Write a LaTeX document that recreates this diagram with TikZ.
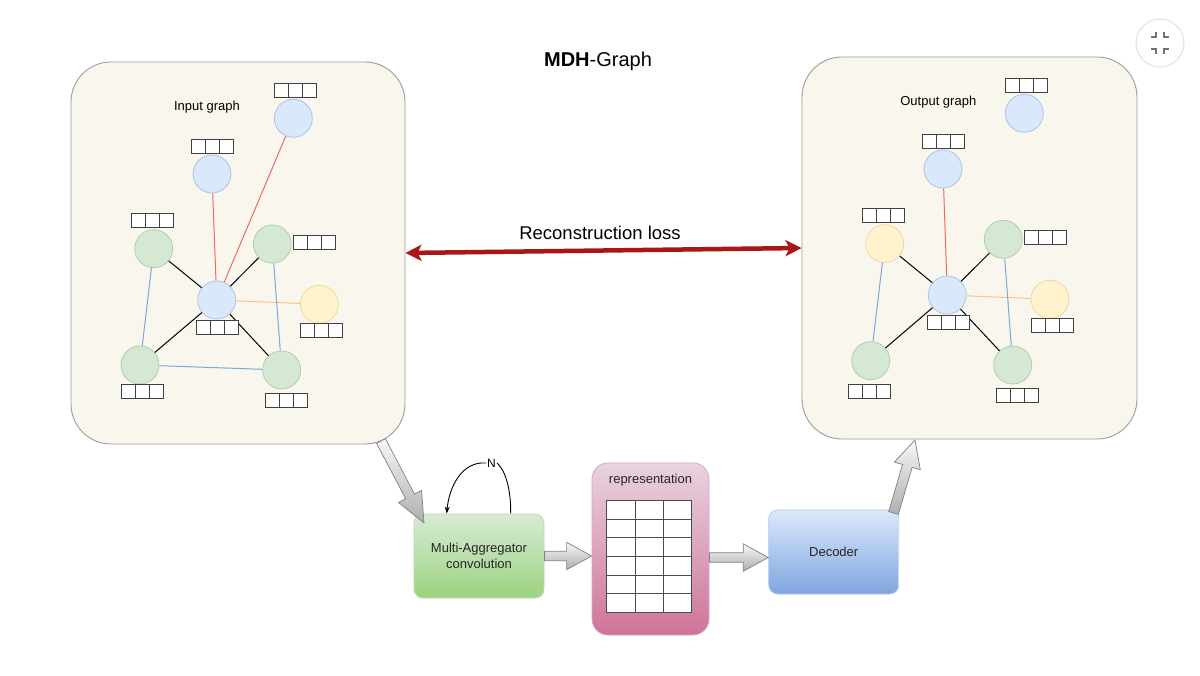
\documentclass[tikz,border=0pt]{standalone}
\usepackage{fontspec}
\setmainfont{Liberation Sans}
\usetikzlibrary{calc,arrows.meta}
\definecolor{panelfill}{HTML}{F9F7ED}
\definecolor{panelline}{HTML}{9C9C9C}
\definecolor{nblue}{HTML}{DAE8FC}
\definecolor{nblueb}{HTML}{AEC3E3}
\definecolor{ngreen}{HTML}{D5E8D4}
\definecolor{ngreenb}{HTML}{B0CFA8}
\definecolor{nyellow}{HTML}{FFF2CC}
\definecolor{nyellowb}{HTML}{EBD9A6}
\definecolor{ered}{HTML}{EA6B66}
\definecolor{eblue}{HTML}{7EA6E0}
\definecolor{eorange}{HTML}{FFC28A}
\definecolor{lossred}{RGB}{168,22,22}
\definecolor{matop}{HTML}{D8EBD5}
\definecolor{mabot}{HTML}{9CD27E}
\definecolor{maline}{HTML}{BCDCAE}
\definecolor{reptop}{HTML}{E8D3E1}
\definecolor{repbot}{HTML}{CF7399}
\definecolor{repline}{HTML}{D8A9C2}
\definecolor{dectop}{HTML}{DCE9FC}
\definecolor{decbot}{HTML}{7FA5DE}
\definecolor{decline}{HTML}{B3C9EC}
\newcommand{\blockarr}[5]{%
  \coordinate (hb) at ($(#2)!#5!(#1)$);
  \path[garrow] ($(#1)!#3!90:(#2)$) -- ($(hb)!#3!90:(#2)$) -- ($(hb)!#4!90:(#2)$) -- (#2)
    -- ($(hb)!#4!-90:(#2)$) -- ($(hb)!#3!-90:(#2)$) -- ($(#1)!#3!-90:(#2)$) -- cycle;
}
\tikzset{
  panel/.style={draw=panelline, fill=panelfill, rounded corners=40pt, line width=0.9pt},
  gnode/.style={circle, minimum size=38pt, inner sep=0pt, line width=0.8pt},
  bluen/.style={gnode, fill=nblue, draw=nblueb},
  greenn/.style={gnode, fill=ngreen, draw=ngreenb},
  yellown/.style={gnode, fill=nyellow, draw=nyellowb},
  feat/.style={draw=black!75, fill=white, minimum width=42pt, minimum height=14pt, inner sep=0pt, line width=0.9pt,
    path picture={\draw[black!75, line width=0.9pt]
      ([xshift=14pt]path picture bounding box.south west) -- ([xshift=14pt]path picture bounding box.north west)
      ([xshift=28pt]path picture bounding box.south west) -- ([xshift=28pt]path picture bounding box.north west);}},
  blk/.style={black, line width=1pt},
  redl/.style={ered, line width=1pt},
  bluel/.style={eblue, line width=1pt},
  orangel/.style={eorange, line width=1pt},
  lbl/.style={font=\fontsize{13}{15.5}\selectfont, inner sep=0pt},
  garrow/.style={draw=black!50, line width=0.7pt, top color=black!3, bottom color=black!32},
  lossarrow/.style={draw=lossred, line width=4.5pt,
    {Stealth[length=16pt,width=16pt,inset=4pt]}-{Stealth[length=16pt,width=16pt,inset=4pt]}},
  mabox/.style={rounded corners=9pt, draw=maline, line width=0.8pt, top color=matop, bottom color=mabot,
    minimum width=130pt, minimum height=84pt, align=center, font=\fontsize{13}{15.5}\selectfont, text=black!85},
  repbox/.style={rounded corners=16pt, draw=repline, line width=0.8pt, top color=reptop, bottom color=repbot,
    minimum width=117pt, minimum height=172pt},
  decbox/.style={rounded corners=9pt, draw=decline, line width=0.8pt, top color=dectop, bottom color=decbot,
    minimum width=130pt, minimum height=84pt, font=\fontsize{13}{15.5}\selectfont, text=black!85},
  reptab/.style={draw=black!70, fill=white, minimum width=85pt, minimum height=112pt, inner sep=0pt, line width=0.8pt,
    path picture={
      \foreach \i in {1,2} \draw[black!70, line width=0.8pt]
        ([xshift=\i*28.333pt]path picture bounding box.south west) -- ([xshift=\i*28.333pt]path picture bounding box.north west);
      \foreach \j in {1,...,5} \draw[black!70, line width=0.8pt]
        ([yshift=\j*18.667pt]path picture bounding box.south west) -- ([yshift=\j*18.667pt]path picture bounding box.south east);
    }},
  loopl/.style={black, line width=0.9pt}
}
\begin{document}
\begin{tikzpicture}[x=1pt, y=-1pt]
\useasboundingbox (0,0) rectangle (1200,676);
\fill[white] (0,0) rectangle (1200,676);

% title
\node[anchor=base, inner sep=0pt] (title) at (598,66.7) {\fontsize{20}{24}\selectfont\textbf{MDH}-Graph};

% corner icon
\draw[black!13, line width=0.9pt] (1160,43) circle[radius=24];
\draw[black!55, line width=1.1pt] (1151,37) -- (1156,37) -- (1156,32)
  (1169,37) -- (1164,37) -- (1164,32)
  (1151,49) -- (1156,49) -- (1156,54)
  (1169,49) -- (1164,49) -- (1164,54);

% panels
\node[panel, minimum width=334pt, minimum height=382pt] (inpanel) at (238,253) {};
\node[panel, minimum width=335pt, minimum height=382pt] (outpanel) at (969.5,248) {};
\node[lbl] (inlabel) at (207,107) {Input graph};
\node[lbl] (outlabel) at (938.3,102.3) {Output graph};

% input graph nodes
\node[bluen] (L1) at (293.3,118.3) {};
\node[bluen] (L2) at (212,174) {};
\node[greenn] (LGL) at (153.7,248.7) {};
\node[greenn] (LGR) at (272.3,244) {};
\node[bluen] (LC) at (216.7,300) {};
\node[yellown] (LY) at (319.3,304.3) {};
\node[greenn] (LBL) at (140,365) {};
\node[greenn] (LBR) at (281.7,370) {};
\draw[redl] (L2) -- (LC);
\draw[redl] (L1) -- (LC);
\draw[blk] (LGL) -- (LC);
\draw[blk] (LGR) -- (LC);
\draw[blk] (LBL) -- (LC);
\draw[blk] (LBR) -- (LC);
\draw[orangel] (LC) -- (LY);
\draw[bluel] (LGL) -- (LBL);
\draw[bluel] (LGR) -- (LBR);
\draw[bluel] (LBL) -- (LBR);
\node[feat] (fL1) at (295,90) {};
\node[feat] (fL2) at (212,146) {};
\node[feat] (fLGL) at (152.7,220.7) {};
\node[feat] (fLGR) at (314.5,242) {};
\node[feat] (fLC) at (217,327) {};
\node[feat] (fLY) at (321.5,330.5) {};
\node[feat] (fLBL) at (142,391) {};
\node[feat] (fLBR) at (286.7,400) {};

% output graph nodes
\node[bluen] (R1) at (1024.3,113.3) {};
\node[bluen] (R2) at (943,169) {};
\node[yellown] (RYL) at (884.7,243.7) {};
\node[greenn] (RGR) at (1003.3,239.3) {};
\node[bluen] (RC) at (947.3,295) {};
\node[yellown] (RYR) at (1050,299.3) {};
\node[greenn] (RBL) at (870.7,360.7) {};
\node[greenn] (RBR) at (1012.7,365) {};
\draw[redl] (R2) -- (RC);
\draw[blk] (RYL) -- (RC);
\draw[blk] (RGR) -- (RC);
\draw[blk] (RBL) -- (RC);
\draw[blk] (RBR) -- (RC);
\draw[orangel] (RC) -- (RYR);
\draw[bluel] (RYL) -- (RBL);
\draw[bluel] (RGR) -- (RBR);
\node[feat] (fR1) at (1026,85) {};
\node[feat] (fR2) at (943,141) {};
\node[feat] (fRYL) at (883.3,215.7) {};
\node[feat] (fRGR) at (1045.3,237) {};
\node[feat] (fRC) at (948,322) {};
\node[feat] (fRYR) at (1052,325.3) {};
\node[feat] (fRBL) at (869,391) {};
\node[feat] (fRBR) at (1017.3,395.3) {};

% reconstruction loss
\draw[lossarrow] (inpanel.east) -- (outpanel.west);
\node[inner sep=0pt, font=\fontsize{18.5}{22}\selectfont] (losslabel) at (600,233) {Reconstruction loss};

% pipeline boxes
\node[mabox] (ma) at (479,556) {Multi-Aggregator\\convolution};
\node[repbox] (rep) at (650.5,549) {};
\node[lbl, text=black!85] (reptitle) at (650.5,480) {representation};
\node[reptab] (tab) at (649.2,556.5) {};
\node[decbox] (dec) at (833.7,552) {Decoder};

% self loop
\node[inner sep=1pt, font=\fontsize{12}{14}\selectfont] (nlab) at (491.5,463) {N};
\coordinate (loopS) at ([xshift=31.7pt]ma.north);
\coordinate (loopE) at ([xshift=-32.3pt]ma.north);
\draw[loopl] (loopS) .. controls (511,488) and (505,470) .. (nlab.east);
\draw[loopl, -{Stealth[length=7pt,width=5pt]}] (nlab.west) .. controls (462,461) and (449,487) .. (loopE);

% block arrows
\coordinate (a1s) at (381,441);
\coordinate (a1e) at (424,523);
\blockarr{a1s}{a1e}{5pt}{13pt}{30pt}
\coordinate (h1s) at (ma.east);
\coordinate (h1e) at (ma.east -| rep.west);
\blockarr{h1s}{h1e}{4.7pt}{13.7pt}{25pt}
\coordinate (h2e) at ([yshift=-5.5pt]dec.west);
\coordinate (h2s) at (h2e -| rep.east);
\blockarr{h2s}{h2e}{4.7pt}{13.7pt}{25pt}
\coordinate (a2s) at (893.5,513);
\coordinate (a2e) at (915,440);
\blockarr{a2s}{a2e}{5pt}{13.5pt}{27pt}
\end{tikzpicture}
\end{document}
